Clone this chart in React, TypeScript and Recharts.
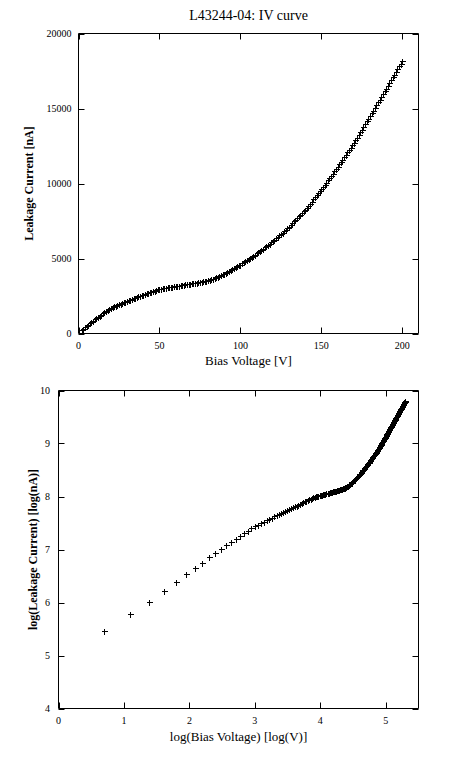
import { Label, Scatter, ScatterChart, XAxis, YAxis } from 'recharts';

// Bias voltage steps [V]
const VOLTAGE = [
  2, 3, 4, 5, 6, 7, 8, 9, 10,
  11, 12, 13, 14, 15, 16, 17, 18, 19, 20,
  21, 22, 23, 24, 25, 26, 27, 28, 29, 30,
  31, 32, 33, 34, 35, 36, 37, 38, 39, 40,
  41, 42, 43, 44, 45, 46, 47, 48, 49, 50,
  51, 52, 53, 54, 55, 56, 57, 58, 59, 60,
  61, 62, 63, 64, 65, 66, 67, 68, 69, 70,
  71, 72, 73, 74, 75, 76, 77, 78, 79, 80,
  81, 82, 83, 84, 85, 86, 87, 88, 89, 90,
  91, 92, 93, 94, 95, 96, 97, 98, 99, 100,
  101, 102, 103, 104, 105, 106, 107, 108, 109, 110,
  111, 112, 113, 114, 115, 116, 117, 118, 119, 120,
  121, 122, 123, 124, 125, 126, 127, 128, 129, 130,
  131, 132, 133, 134, 135, 136, 137, 138, 139, 140,
  141, 142, 143, 144, 145, 146, 147, 148, 149, 150,
  151, 152, 153, 154, 155, 156, 157, 158, 159, 160,
  161, 162, 163, 164, 165, 166, 167, 168, 169, 170,
  171, 172, 173, 174, 175, 176, 177, 178, 179, 180,
  181, 182, 183, 184, 185, 186, 187, 188, 189, 190,
  191, 192, 193, 194, 195, 196, 197, 198, 199, 200,
];

// Leakage current [nA]
const CURRENT = [
  235, 324, 407, 498, 590, 685, 773, 854, 943,
  1025, 1110, 1190, 1265, 1340, 1415, 1490, 1560, 1630, 1700,
  1755, 1805, 1855, 1905, 1955, 2000, 2045, 2090, 2130, 2170,
  2215, 2260, 2305, 2350, 2390, 2430, 2475, 2515, 2560, 2600,
  2640, 2680, 2715, 2755, 2790, 2825, 2865, 2900, 2935, 2970,
  2990, 3010, 3030, 3050, 3070, 3090, 3110, 3125, 3145, 3160,
  3180, 3200, 3220, 3240, 3260, 3280, 3295, 3315, 3330, 3350,
  3365, 3385, 3400, 3420, 3440, 3460, 3480, 3505, 3530, 3560,
  3590, 3620, 3655, 3695, 3740, 3785, 3830, 3880, 3935, 3990,
  4045, 4100, 4160, 4220, 4280, 4340, 4405, 4470, 4535, 4600,
  4670, 4740, 4815, 4885, 4960, 5035, 5110, 5185, 5260, 5340,
  5420, 5500, 5580, 5660, 5740, 5825, 5910, 5995, 6080, 6170,
  6260, 6350, 6440, 6535, 6630, 6730, 6830, 6930, 7030, 7130,
  7245, 7355, 7470, 7580, 7695, 7805, 7920, 8030, 8145, 8260,
  8395, 8530, 8665, 8800, 8935, 9070, 9205, 9340, 9475, 9610,
  9760, 9910, 10060, 10210, 10360, 10510, 10660, 10810, 10960, 11110,
  11270, 11430, 11590, 11750, 11910, 12070, 12230, 12390, 12550, 12710,
  12890, 13065, 13245, 13420, 13600, 13780, 13955, 14135, 14310, 14490,
  14675, 14860, 15045, 15230, 15410, 15595, 15780, 15965, 16150, 16330,
  16515, 16700, 16885, 17070, 17255, 17440, 17625, 17810, 17995, 18180,
];

const IV_X_TICKS = [0, 50, 100, 150, 200];
const IV_Y_TICKS = [0, 5000, 10000, 15000, 20000];
const LOG_X_TICKS = [0, 1, 2, 3, 4, 5];
const LOG_Y_TICKS = [4, 5, 6, 7, 8, 9, 10];

const ivData = VOLTAGE.map((v, k) => ({ v, i: CURRENT[k] }));
// same measurement on natural-log axes
const logData = VOLTAGE.map((v, k) => ({ lv: Math.log(v), li: Math.log(CURRENT[k]) }));

const FONT = '"Liberation Serif", "DejaVu Serif", "Times New Roman", serif';
const axisLine = { stroke: '#000', strokeWidth: 1 };
const TICK_LEN = 6;

// gnuplot style "+" point
const Cross = (props: any) => {
  const { cx, cy } = props;
  if (cx == null || cy == null) return null;
  const x = Math.round(cx) + 0.5;
  const y = Math.round(cy) + 0.5;
  return (
    <path
      d={`M${x - 3},${y}h6M${x},${y - 3}v6`}
      stroke="#000"
      strokeWidth={1}
      fill="none"
      shapeRendering="crispEdges"
    />
  );
};

const Nothing = () => <g />;

// inward tick mark (gnuplot border ticks) plus optional label
const makeTick = (side: 'left' | 'bottom' | 'top' | 'right', gap: number, label: boolean) => (props: any) => {
  const x = Number(props.x);
  const y = Number(props.y);
  const { payload } = props;
  let d = '';
  let text = null;
  if (side === 'left') {
    const cy = Math.round(y) + 0.5;
    d = `M${x + gap},${cy}h${TICK_LEN}`;
    if (label)
      text = (
        <text x={x} y={y} dy="0.35em" textAnchor="end" fontFamily={FONT} fontSize={10} fill="#000">
          {payload.value}
        </text>
      );
  } else if (side === 'bottom') {
    const cx = Math.round(x) + 0.5;
    d = `M${cx},${y - gap}v${-TICK_LEN}`;
    if (label)
      text = (
        <text x={x} y={y} dy="0.71em" textAnchor="middle" fontFamily={FONT} fontSize={10} fill="#000">
          {payload.value}
        </text>
      );
  } else if (side === 'top') {
    const cx = Math.round(x) + 0.5;
    d = `M${cx},${y}v${TICK_LEN}`;
  } else {
    const cy = Math.round(y) + 0.5;
    d = `M${x},${cy}h${-TICK_LEN}`;
  }
  return (
    <g>
      <path d={d} stroke="#000" strokeWidth={1} fill="none" />
      {text}
    </g>
  );
};

const leftTickIV = makeTick('left', 7, true);
const leftTickLog = makeTick('left', 8.5, true);
const bottomTick = makeTick('bottom', 8, true);
const topTick = makeTick('top', 0, false);
const rightTick = makeTick('right', 0, false);

export default function App() {
  return (
    <div style={{ position: 'absolute', left: 0, top: 0, width: 471, height: 761, background: '#fff' }}>
      {/* linear I-V plot */}
      <div style={{ position: 'absolute', left: 0, top: 0 }}>
        <ScatterChart width={471} height={380} margin={{ top: 32.5, right: 51.5, bottom: 6.5, left: 0 }}>
          <XAxis
            dataKey="v"
            type="number"
            domain={[0, 210]}
            ticks={IV_X_TICKS}
            height={40}
            tickSize={0}
            tickLine={false}
            tickMargin={8}
            axisLine={axisLine}
            tick={bottomTick}
          >
            <Label
              value="Bias Voltage [V]"
              position="insideBottom"
              offset={8.5}
              style={{ fontFamily: FONT, fontSize: 13, fill: '#000' }}
            />
          </XAxis>
          <XAxis
            xAxisId="top"
            orientation="top"
            dataKey="v"
            type="number"
            domain={[0, 210]}
            ticks={IV_X_TICKS}
            height={1}
            tickSize={0}
            tickLine={false}
            tickMargin={0}
            axisLine={axisLine}
            tick={topTick}
          />
          <YAxis
            dataKey="i"
            type="number"
            domain={[0, 20000]}
            ticks={IV_Y_TICKS}
            width={78.5}
            tickSize={0}
            tickLine={false}
            tickMargin={7}
            axisLine={axisLine}
            tick={leftTickIV}
          >
            <Label
              value="Leakage Current [nA]"
              angle={-90}
              position="insideLeft"
              offset={29}
              style={{ fontFamily: FONT, fontSize: 12, fontWeight: 'bold', fill: '#000', textAnchor: 'middle' }}
            />
          </YAxis>
          <YAxis
            yAxisId="right"
            orientation="right"
            dataKey="i"
            type="number"
            domain={[0, 20000]}
            ticks={IV_Y_TICKS}
            width={1}
            tickSize={0}
            tickLine={false}
            tickMargin={0}
            axisLine={axisLine}
            tick={rightTick}
          />
          <Scatter data={ivData} shape={<Cross />} isAnimationActive={false} />
          {/* binds the mirrored border axes; draws nothing */}
          <Scatter data={ivData} xAxisId="top" yAxisId="right" shape={<Nothing />} isAnimationActive={false} />
        </ScatterChart>
      </div>
      <svg width={471} height={30} style={{ position: 'absolute', left: 0, top: 0 }}>
        <text x={248.5} y={20} textAnchor="middle" fontFamily={FONT} fontSize={14} fill="#000">
          L43244-04: IV curve
        </text>
      </svg>

      {/* log-log plot */}
      <div style={{ position: 'absolute', left: 0, top: 380 }}>
        <ScatterChart width={471} height={381} margin={{ top: 9.5, right: 51.5, bottom: 12.5, left: 0 }}>
          <XAxis
            dataKey="lv"
            type="number"
            domain={[0, 5.5]}
            ticks={LOG_X_TICKS}
            height={40}
            tickSize={0}
            tickLine={false}
            tickMargin={8}
            axisLine={axisLine}
            tick={bottomTick}
          >
            <Label
              value="log(Bias Voltage) [log(V)]"
              position="insideBottom"
              offset={7.5}
              style={{ fontFamily: FONT, fontSize: 13, fill: '#000' }}
            />
          </XAxis>
          <XAxis
            xAxisId="top"
            orientation="top"
            dataKey="lv"
            type="number"
            domain={[0, 5.5]}
            ticks={LOG_X_TICKS}
            height={1}
            tickSize={0}
            tickLine={false}
            tickMargin={0}
            axisLine={axisLine}
            tick={topTick}
          />
          <YAxis
            dataKey="li"
            type="number"
            domain={[4, 10]}
            ticks={LOG_Y_TICKS}
            width={58.5}
            tickSize={0}
            tickLine={false}
            tickMargin={8.5}
            axisLine={axisLine}
            tick={leftTickLog}
          >
            <Label
              value="log(Leakage Current) [log(nA)]"
              angle={-90}
              position="insideLeft"
              offset={33}
              style={{ fontFamily: FONT, fontSize: 12, fontWeight: 'bold', fill: '#000', textAnchor: 'middle' }}
            />
          </YAxis>
          <YAxis
            yAxisId="right"
            orientation="right"
            dataKey="li"
            type="number"
            domain={[4, 10]}
            ticks={LOG_Y_TICKS}
            width={1}
            tickSize={0}
            tickLine={false}
            tickMargin={0}
            axisLine={axisLine}
            tick={rightTick}
          />
          <Scatter data={logData} shape={<Cross />} isAnimationActive={false} />
          <Scatter data={logData} xAxisId="top" yAxisId="right" shape={<Nothing />} isAnimationActive={false} />
        </ScatterChart>
      </div>
    </div>
  );
}
